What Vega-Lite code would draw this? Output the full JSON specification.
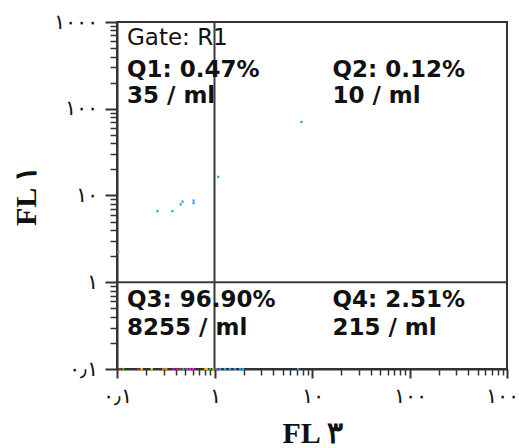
{
  "$schema": "https://vega.github.io/schema/vega-lite/v6.json",
  "width": 390,
  "height": 347,
  "autosize": {"type": "none"},
  "padding": {"left": 117, "top": 22, "right": 12, "bottom": 79},
  "background": "white",
  "config": {
    "view": {"stroke": "#333333", "strokeWidth": 2},
    "axis": {"grid": false, "domainColor": "#333333", "domainWidth": 2, "tickColor": "#333333", "labelColor": "#111111", "titleColor": "#111111"}
  },
  "datasets": {
    "events": [
      {"fl3": 0.26, "fl1": 6.6, "pop": "P1"},
      {"fl3": 0.37, "fl1": 6.6, "pop": "P1"},
      {"fl3": 0.45, "fl1": 7.9, "pop": "P1"},
      {"fl3": 0.47, "fl1": 8.5, "pop": "P1"},
      {"fl3": 0.61, "fl1": 8.75, "pop": "P1"},
      {"fl3": 0.61, "fl1": 8.15, "pop": "P1"},
      {"fl3": 1.09, "fl1": 16.4, "pop": "P1"},
      {"fl3": 0.103, "fl1": 2.25, "pop": "P1"},
      {"fl3": 7.8, "fl1": 70.4, "pop": "P1"},
      {"fl3": 7.2, "fl1": 0.1, "pop": "P1"},
      {"fl3": 0.107, "fl1": 0.1, "pop": "P2"},
      {"fl3": 0.116, "fl1": 0.1, "pop": "P3"},
      {"fl3": 0.165, "fl1": 0.1, "pop": "P2"},
      {"fl3": 0.179, "fl1": 0.1, "pop": "P4"},
      {"fl3": 0.227, "fl1": 0.1, "pop": "P4"},
      {"fl3": 0.3, "fl1": 0.1, "pop": "P5"},
      {"fl3": 0.32, "fl1": 0.1, "pop": "P5"},
      {"fl3": 0.378, "fl1": 0.1, "pop": "P6"},
      {"fl3": 0.41, "fl1": 0.1, "pop": "P2"},
      {"fl3": 0.443, "fl1": 0.1, "pop": "P6"},
      {"fl3": 0.479, "fl1": 0.1, "pop": "P3"},
      {"fl3": 0.519, "fl1": 0.1, "pop": "P7"},
      {"fl3": 0.56, "fl1": 0.1, "pop": "P7"},
      {"fl3": 0.606, "fl1": 0.1, "pop": "P7"},
      {"fl3": 0.8, "fl1": 0.1, "pop": "P5"},
      {"fl3": 0.83, "fl1": 0.1, "pop": "P4"},
      {"fl3": 0.9, "fl1": 0.1, "pop": "P3"},
      {"fl3": 0.97, "fl1": 0.1, "pop": "P5"},
      {"fl3": 1.05, "fl1": 0.1, "pop": "P1"},
      {"fl3": 1.14, "fl1": 0.1, "pop": "P1"},
      {"fl3": 1.28, "fl1": 0.1, "pop": "P1"},
      {"fl3": 1.44, "fl1": 0.1, "pop": "P1"},
      {"fl3": 1.62, "fl1": 0.1, "pop": "P1"},
      {"fl3": 1.83, "fl1": 0.1, "pop": "P1"},
      {"fl3": 1.96, "fl1": 0.1, "pop": "P1"}
    ],
    "notes": [
      {"fl3": 0.1266, "fl1": 543, "label": "Gate: R1", "kind": "gate"},
      {"fl3": 0.1266, "fl1": 232, "label": "Q1: 0.47%", "kind": "stat"},
      {"fl3": 0.1266, "fl1": 116, "label": "35 / ml", "kind": "stat"},
      {"fl3": 16.2, "fl1": 232, "label": "Q2: 0.12%", "kind": "stat"},
      {"fl3": 16.2, "fl1": 116, "label": "10 / ml", "kind": "stat"},
      {"fl3": 0.1266, "fl1": 0.519, "label": "Q3: 96.90%", "kind": "stat"},
      {"fl3": 0.1266, "fl1": 0.247, "label": "8255 / ml", "kind": "stat"},
      {"fl3": 16.2, "fl1": 0.519, "label": "Q4: 2.51%", "kind": "stat"},
      {"fl3": 16.2, "fl1": 0.247, "label": "215 / ml", "kind": "stat"}
    ]
  },
  "layer": [
    {
      "data": {"values": [{"fl3": 1}]},
      "mark": {"type": "rule", "color": "#3a3a3a", "strokeWidth": 2},
      "encoding": {
        "x": {"field": "fl3", "type": "quantitative", "scale": {"type": "log", "domain": [0.1, 1000], "nice": false}}
      }
    },
    {
      "data": {"values": [{"fl1": 1}]},
      "mark": {"type": "rule", "color": "#3a3a3a", "strokeWidth": 2},
      "encoding": {
        "y": {"field": "fl1", "type": "quantitative", "scale": {"type": "log", "domain": [0.1, 1000], "nice": false}}
      }
    },
    {
      "data": {"name": "events"},
      "mark": {"type": "square", "size": 5, "opacity": 1, "filled": true, "clip": false},
      "encoding": {
        "x": {
          "field": "fl3", "type": "quantitative",
          "scale": {"type": "log", "domain": [0.1, 1000], "nice": false},
          "axis": {
            "title": "FL ٣",
            "titleFont": "Liberation Serif", "titleFontSize": 30, "titleFontWeight": "bold", "titlePadding": 12,
            "values": [0.1,0.2,0.3,0.4,0.5,0.6,0.7,0.8,0.9,1,2,3,4,5,6,7,8,9,10,20,30,40,50,60,70,80,90,100,200,300,400,500,600,700,800,900,1000],
            "labelExpr": "datum.value == 0.1 ? '٠٫١' : datum.value == 1 ? '١' : datum.value == 10 ? '١٠' : datum.value == 100 ? '١٠٠' : datum.value == 1000 ? '١٠٠٠' : ''",
            "labelOverlap": false, "labelFlush": false,
            "labelFont": "Liberation Serif", "labelFontSize": 21, "labelPadding": 7,
            "tickSize": {"condition": {"test": "abs(log(datum.value)/LN10 - round(log(datum.value)/LN10)) < 0.001", "value": 9}, "value": 6},
            "tickWidth": {"condition": {"test": "abs(log(datum.value)/LN10 - round(log(datum.value)/LN10)) < 0.001", "value": 2}, "value": 1.5}
          }
        },
        "y": {
          "field": "fl1", "type": "quantitative",
          "scale": {"type": "log", "domain": [0.1, 1000], "nice": false},
          "axis": {
            "title": "FL ١",
            "titleFont": "Liberation Serif", "titleFontSize": 30, "titleFontWeight": "bold", "titlePadding": 12,
            "values": [0.1,0.2,0.3,0.4,0.5,0.6,0.7,0.8,0.9,1,2,3,4,5,6,7,8,9,10,20,30,40,50,60,70,80,90,100,200,300,400,500,600,700,800,900,1000],
            "labelExpr": "datum.value == 0.1 ? '٠٫١' : datum.value == 1 ? '١' : datum.value == 10 ? '١٠' : datum.value == 100 ? '١٠٠' : datum.value == 1000 ? '١٠٠٠' : ''",
            "labelOverlap": false, "labelFlush": false,
            "labelFont": "Liberation Serif", "labelFontSize": 21, "labelPadding": 8,
            "tickSize": {"condition": {"test": "abs(log(datum.value)/LN10 - round(log(datum.value)/LN10)) < 0.001", "value": 12}, "value": 7},
            "tickWidth": {"condition": {"test": "abs(log(datum.value)/LN10 - round(log(datum.value)/LN10)) < 0.001", "value": 2}, "value": 1.5}
          }
        },
        "color": {
          "field": "pop", "type": "nominal", "legend": null,
          "scale": {"domain": ["P1","P2","P3","P4","P5","P6","P7"], "range": ["#2f9fe6","#e02020","#22c022","#e8d820","#f08a10","#8a2be2","#e020e0"]}
        }
      }
    },
    {
      "data": {"name": "notes"},
      "transform": [{"filter": "datum.kind == 'gate'"}],
      "mark": {"type": "text", "align": "left", "baseline": "alphabetic", "font": "DejaVu Sans", "fontSize": 23, "fontWeight": "normal", "color": "#111111"},
      "encoding": {
        "x": {"field": "fl3", "type": "quantitative"},
        "y": {"field": "fl1", "type": "quantitative"},
        "text": {"field": "label"}
      }
    },
    {
      "data": {"name": "notes"},
      "transform": [{"filter": "datum.kind == 'stat'"}],
      "mark": {"type": "text", "align": "left", "baseline": "alphabetic", "font": "DejaVu Sans", "fontSize": 23, "fontWeight": "bold", "color": "#111111"},
      "encoding": {
        "x": {"field": "fl3", "type": "quantitative"},
        "y": {"field": "fl1", "type": "quantitative"},
        "text": {"field": "label"}
      }
    }
  ]
}
